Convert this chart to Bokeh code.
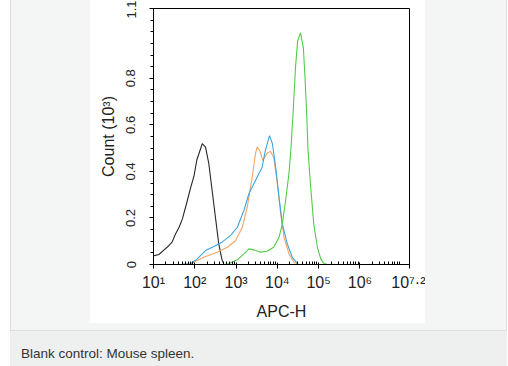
from bokeh.plotting import figure
from bokeh.models import Range1d, FixedTicker, Div, Spacer
from bokeh.layouts import row, column
from bokeh.embed import file_html
from bokeh.resources import INLINE

# ---- data: log10(APC-H) positions and Count (10^3) ----
black_log = [1.00, 1.13, 1.25, 1.33, 1.45, 1.53, 1.62, 1.70, 1.82, 1.90, 1.98, 2.05, 2.10, 2.18, 2.22, 2.26,
             2.34, 2.42, 2.50, 2.58, 2.66, 2.70]
black_cnt = [0.037, 0.043, 0.062, 0.074, 0.096, 0.130, 0.160, 0.196, 0.275, 0.330, 0.380, 0.450, 0.476, 0.519,
             0.512, 0.504, 0.433, 0.318, 0.203, 0.089, 0.020, 0.003]

blue_log = [1.48, 1.70, 1.90, 2.06, 2.26, 2.46, 2.66, 2.87, 3.03, 3.19, 3.31, 3.47, 3.63, 3.71, 3.81, 3.88,
            3.96, 4.04, 4.12, 4.24, 4.36, 4.48]
blue_cnt = [0.000, 0.001, 0.003, 0.024, 0.060, 0.077, 0.096, 0.125, 0.160, 0.232, 0.304, 0.361, 0.418, 0.490,
            0.554, 0.519, 0.418, 0.289, 0.175, 0.089, 0.031, 0.006]

orange_log = [1.70, 1.90, 2.22, 2.54, 2.79, 2.99, 3.15, 3.27, 3.39, 3.47, 3.51, 3.57, 3.65, 3.75, 3.83, 3.91,
              4.00, 4.08, 4.16, 4.28, 4.40, 4.52]
orange_cnt = [0.000, 0.003, 0.031, 0.053, 0.074, 0.103, 0.160, 0.246, 0.375, 0.476, 0.504, 0.490, 0.447, 0.478,
              0.486, 0.461, 0.347, 0.218, 0.117, 0.046, 0.010, 0.000]

green_log = [2.70, 2.82, 3.03, 3.19, 3.31, 3.43, 3.59, 3.75, 3.91, 4.04, 4.12, 4.20, 4.28, 4.33, 4.38, 4.44,
             4.49, 4.56, 4.63, 4.67, 4.71, 4.74, 4.80, 4.88, 4.97, 5.05, 5.12, 5.20]
green_cnt = [0.000, 0.003, 0.020, 0.046, 0.067, 0.063, 0.053, 0.057, 0.074, 0.117, 0.175, 0.275, 0.390, 0.500,
             0.650, 0.850, 0.960, 0.995, 0.930, 0.800, 0.650, 0.500, 0.347, 0.175, 0.074, 0.024, 0.006, 0.000]

x_tick_exps = [1, 2, 3, 4, 5, 6, 7.2]
x_tick_labels = ["10\u00b9", "10\u00b2", "10\u00b3", "10\u2074", "10\u2075", "10\u2076", "10\u2077\u00b7\u00b2"]
x_minor_mult = [2, 3, 4, 5, 6, 7, 8, 9]
y_ticks = [0, 0.2, 0.4, 0.6, 0.8, 1.1]
y_minor = [0.05, 0.1, 0.15, 0.25, 0.3, 0.35, 0.45, 0.5, 0.55, 0.65, 0.7, 0.75, 0.85, 0.9, 0.95, 1.0, 1.05]

caption = "Blank control: Mouse spleen."

FONT = "Liberation Sans"
TXT = "#222222"
GRAY = "#f4f5f5"
LINE = "#dcdddd"
STRIP = "#eeefef"

FIG_W, FIG_H = 335, 323

# ---------------- main plot ----------------
p = figure(width=FIG_W, height=FIG_H, x_axis_type="log",
           x_range=Range1d(10 ** x_tick_exps[0], 10 ** x_tick_exps[-1]), y_range=Range1d(0, 1.1),
           output_backend="svg", toolbar_location=None,
           min_border_left=63, min_border_right=16, min_border_top=8, min_border_bottom=59)
p.background_fill_color = "white"
p.border_fill_color = "white"
p.outline_line_color = "black"
p.outline_line_width = 1
p.grid.visible = False

series = [
    (black_log, black_cnt, "#262626"),
    (orange_log, orange_cnt, "#f0a566"),
    (blue_log, blue_cnt, "#3aa6dc"),
    (green_log, green_cnt, "#50cc48"),
]
for lg, cnt, col in series:
    p.line(x=[10 ** v for v in lg], y=cnt, line_color=col, line_width=1.1)

xt = [10 ** e for e in x_tick_exps]
xm = [m * 10 ** k for k in range(1, 7) for m in x_minor_mult]
xa = p.xaxis[0]
xa.ticker = FixedTicker(ticks=xt, minor_ticks=xm)
xa.major_label_overrides = dict(zip(xt, x_tick_labels))
xa.major_label_text_font = FONT
xa.major_label_text_font_size = "16px"
xa.major_label_text_color = TXT
xa.major_label_standoff = 5
xa.major_tick_in = 2
xa.major_tick_out = 4
xa.minor_tick_in = 3
xa.minor_tick_out = 0
xa.axis_line_color = "black"
xa.axis_label = "APC-H"
xa.axis_label_text_font = FONT
xa.axis_label_text_font_style = "normal"
xa.axis_label_text_font_size = "16px"
xa.axis_label_text_color = TXT
xa.axis_label_standoff = 9

ya = p.yaxis[0]
ya.ticker = FixedTicker(ticks=y_ticks, minor_ticks=y_minor)
ya.major_label_orientation = "vertical"
ya.major_label_text_font = FONT
ya.major_label_text_font_size = "13px"
ya.major_label_text_color = TXT
ya.major_label_standoff = 14
ya.major_tick_in = 0
ya.major_tick_out = 4
ya.minor_tick_in = 0
ya.minor_tick_out = 3
ya.axis_line_color = "black"
ya.axis_label = "Count (10\u00b3)"
ya.axis_label_text_font = FONT
ya.axis_label_text_font_style = "normal"
ya.axis_label_text_font_size = "16px"
ya.axis_label_text_color = TXT
ya.axis_label_standoff = 7

# ---------------- page frame pieces ----------------
def box(w, h, color):
    return Spacer(width=w, height=h, margin=0, styles={"background-color": color})

top_row = row(box(10, FIG_H, "white"), box(1, FIG_H, LINE), box(79, FIG_H, GRAY), p,
              box(81, FIG_H, GRAY), box(1, FIG_H, LINE), box(1, FIG_H, "white"), spacing=0)
band_row = row(box(10, 7, "white"), box(1, 7, LINE), box(495, 7, GRAY), box(1, 7, LINE),
               box(1, 7, "white"), spacing=0)
line_row = row(box(10, 1, "white"), box(497, 1, LINE), box(1, 1, "white"), spacing=0)
cap = Div(text=('<div style="padding:15px 0 0 11px;font-family:\'Liberation Sans\',Arial,sans-serif;'
                'font-size:13.5px;line-height:16px;color:#333333;white-space:nowrap;">'
                + caption + '</div>'),
          width=497, height=35, margin=0, styles={"background-color": STRIP})
cap_row = row(box(10, 35, "white"), cap, box(1, 35, "white"), spacing=0)

layout = column(top_row, band_row, line_row, cap_row, spacing=0)

open("out.html", "w").write(file_html(layout, INLINE))
